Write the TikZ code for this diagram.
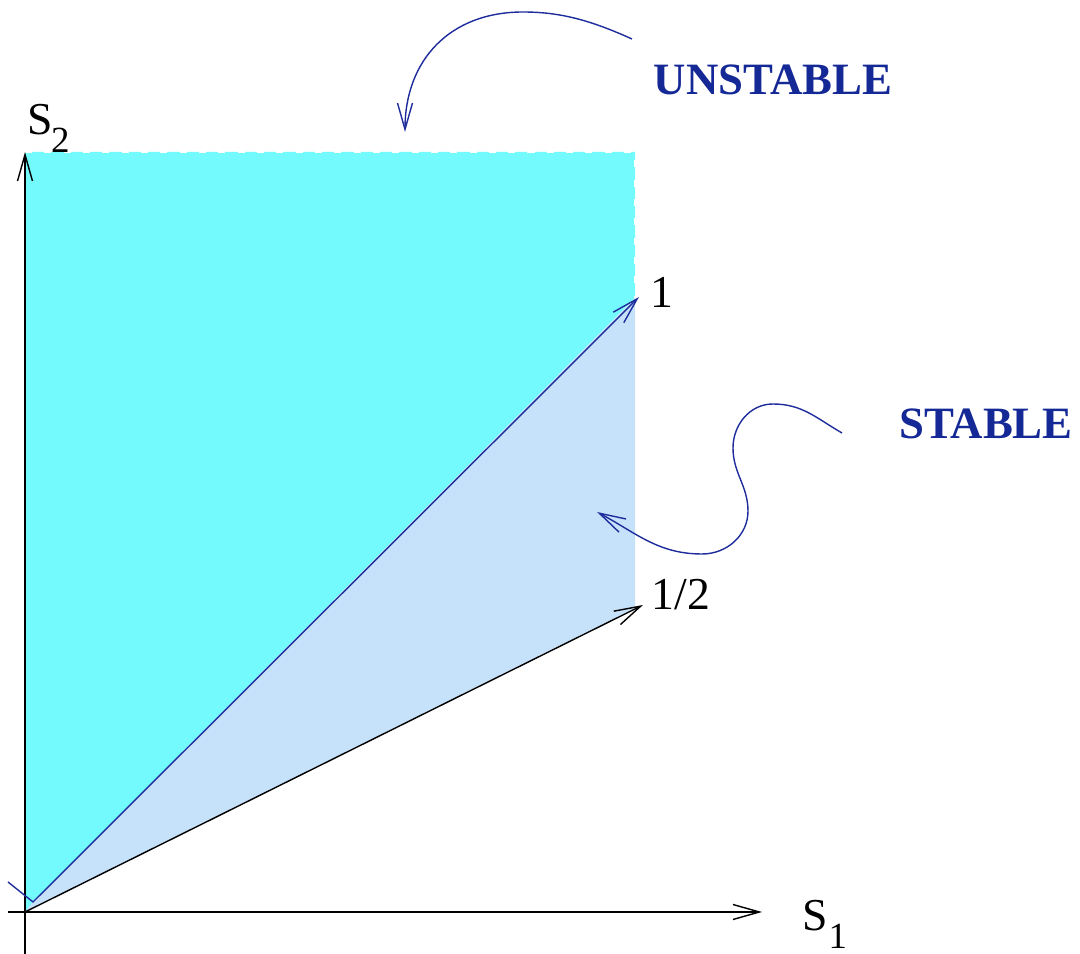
\documentclass[tikz,border=0pt]{standalone}
\usepackage{fontspec}
\setmainfont{Liberation Serif}
\usetikzlibrary{arrows.meta}
\definecolor{cyanfill}{RGB}{115,250,253}
\definecolor{stablefill}{RGB}{198,226,251}
\definecolor{navy}{RGB}{30,45,155}
\definecolor{labelblue}{RGB}{20,40,150}
\begin{document}
\begin{tikzpicture}[x=0.02cm,y=0.02cm,
  barb/.style={-{Straight Barb[length=15pt,width=8.5pt]}},
  axis/.style={black, line width=0.8pt, barb},
  lbl/.style={inner sep=0, font=\fontsize{26}{30}\selectfont},
  tag/.style={inner sep=0, text=labelblue, font=\fontsize{25.5}{30}\selectfont\bfseries},
  pointer/.style={navy, line width=0.8pt, barb}]
\useasboundingbox (0,0) rectangle (1080,954);
% key points
\coordinate (O) at (25,42);
\coordinate (Ybot) at (25,0);
\coordinate (Ytop) at (25,802);
\coordinate (Xl) at (8,42);
\coordinate (Xr) at (762,42);
\coordinate (TR) at (635,802);
\coordinate (RU) at (635,656);
\coordinate (RL) at (635,346);
\coordinate (V) at (33,52);
\coordinate (Tail) at (8,72);
\coordinate (Tip1) at (639,657);
\coordinate (TipH) at (643,349);
% regions
\fill[cyanfill] (O) -- (Ytop) -- (TR) -- (RU) -- (V) -- cycle;
\fill[stablefill] (O) -- (V) -- (RU) -- (RL) -- cycle;
\draw[white, line width=0.6pt, dash pattern=on 4pt off 7pt] (Ytop) -- (TR) -- (RU);
% axes and rays
\draw[axis] (Ybot) -- (Ytop);
\draw[axis] (Xl) -- (Xr);
\draw[axis] (O) -- (TipH);
\draw[pointer] (Tail) -- (V) -- (Tip1);
% labels
\node[lbl, anchor=base west] (s2) at (27,819) {S\kern-1pt\raisebox{-10pt}{\fontsize{21}{21}\selectfont 2}};
\node[lbl, anchor=base west] (s1) at (802,23) {S\kern0.5pt\raisebox{-10pt}{\fontsize{21}{21}\selectfont 1}};
\node[lbl] (one) at (662,662) {1};
\node[lbl] (half) at (681,359) {1/2};
\node[tag] (unstable) at (773,874) {UNSTABLE};
\node[tag] (stable) at (986,530) {STABLE};
% pointer arrows
\coordinate (u0) at (632,915);
\coordinate (u1) at (523,942);
\coordinate (uT) at (405,822);
\draw[pointer] (u0) .. controls (590,934) and (560,942) .. (u1)
  .. controls (450,942) and (405,894) .. (uT);
\coordinate (s0) at (842,521);
\coordinate (s1p) at (773,550);
\coordinate (s2p) at (733,506);
\coordinate (s3p) at (748,443);
\coordinate (s4p) at (702,400);
\coordinate (sT) at (597,442);
\draw[pointer] (s0) to[out=150,in=0] (s1p) to[out=180,in=90] (s2p)
  to[out=-90,in=90] (s3p) to[out=-90,in=0] (s4p) to[out=180,in=-28] (sT);
\end{tikzpicture}
\end{document}
